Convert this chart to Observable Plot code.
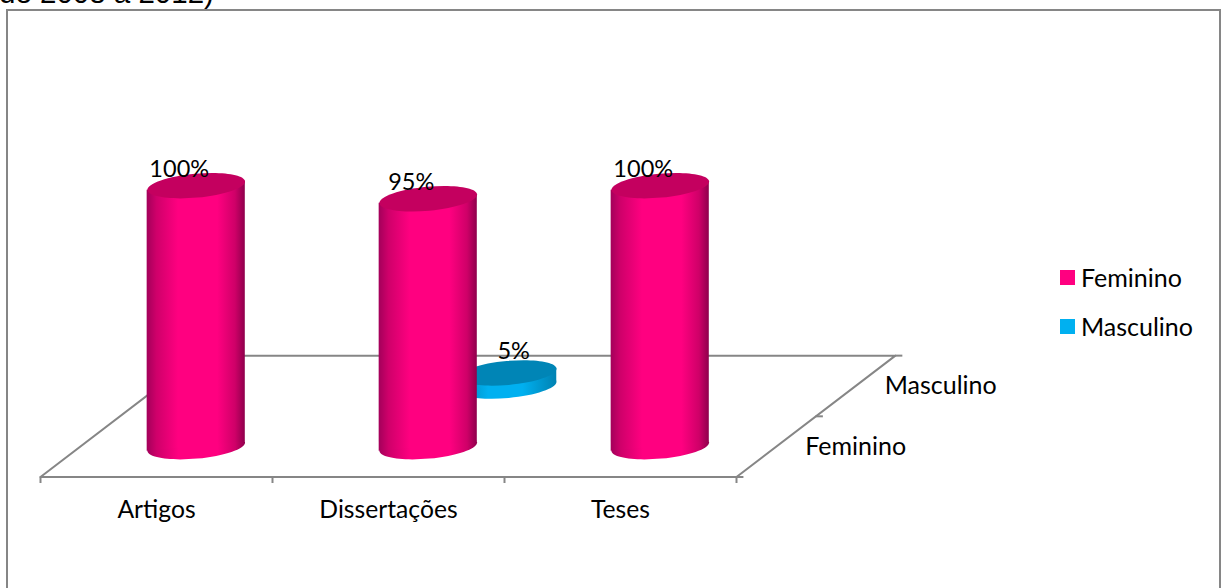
<!DOCTYPE html>
<html lang="pt">
<head>
<meta charset="utf-8">
<title>Autoria por sexo</title>
<script src="https://cdn.jsdelivr.net/npm/d3@7"></script>
<script src="https://cdn.jsdelivr.net/npm/@observablehq/plot@0.6"></script>
<style>
  html, body { margin: 0; padding: 0; background: #fff; overflow: hidden; width: 1221px; height: 588px; }
  #stage { position: relative; width: 1221px; height: 588px; overflow: hidden; }
  #stage svg { position: absolute; left: 0; top: 0; }
  .caption { position: absolute; left: -1px; top: -24px; font: 29.5px/34px "Liberation Sans", Arial, sans-serif; color: #000; white-space: nowrap; }
  .border { position: absolute; left: 6px; top: 9px; width: 1211px; height: 620px; border: 2px solid #868686; box-sizing: content-box; }
  .legend { position: absolute; left: 1060px; top: 252.5px; font: 25px/49px Lato, sans-serif; color: #000; }
  .legend div { display: flex; align-items: center; height: 49px; }
  .legend i { display: block; width: 15px; height: 15px; margin-right: 6px; }
</style>
</head>
<body>
<div id="stage">
  <div class="caption">de 2008 a 2012)</div>
  <div class="border"></div>
  <div class="legend" id="legend"></div>
</div>
<script>
// Share of works by authors' sex, per publication type (percent)
const categories = ["Artigos", "Dissertações", "Teses"];
const feminino = [100, 95, 100];
const masculino = [0, 5, 0];
const seriesNames = ["Feminino", "Masculino"];
const seriesColors = ["#ff0080", "#00b0f0"];

// Oblique floor: a step along the depth axis moves right and up, in scale units
const depthX = 0.685;
const depthY = 46.5;
const rowDepth = [0.25, 0.75];
const halfWidth = 0.2115;
const tilt = 1.75;

const project = (cat, depth, value) => ({x: cat + depth * depthX, y: value + depth * depthY});

// One record per visible cylinder
function cylinders(values, row) {
  return values.flatMap((v, i) => {
    if (v <= 0) return [];
    const base = project(i + 0.5, rowDepth[row], 0);
    return [{name: categories[i], value: v, x: base.x, base: base.y, top: base.y + v, label: `${v}%`}];
  });
}
const bodySides = (rows) => rows.flatMap((r) => [
  {name: r.name, x: r.x - halfWidth, y1: r.base - tilt, y2: r.top - tilt},
  {name: r.name, x: r.x + halfWidth, y1: r.base + tilt, y2: r.top + tilt}
]);

// Flattened, slightly rotated disc used for both ends of a cylinder
const disc = {
  draw(context, size) {
    const a = Math.sqrt(size / Math.PI), b = a * 0.245, k = 0.5523;
    const angle = -5.2 * Math.PI / 180, c = Math.cos(angle), s = Math.sin(angle);
    const px = (x, y) => x * c - y * s, py = (x, y) => x * s + y * c;
    const curve = (x1, y1, x2, y2, x3, y3) =>
      context.bezierCurveTo(px(x1, y1), py(x1, y1), px(x2, y2), py(x2, y2), px(x3, y3), py(x3, y3));
    context.moveTo(px(a, 0), py(a, 0));
    curve(a, k * b, k * a, b, 0, b);
    curve(-k * a, b, -a, k * b, -a, 0);
    curve(-a, -k * b, -k * a, -b, 0, -b);
    curve(k * a, -b, a, -k * b, a, 0);
    context.closePath();
  }
};

// Horizontal shading across a cylinder's curved side
const gradients = () => {
  const defs = d3.create("svg:defs");
  const add = (id, stops) => {
    const g = defs.append("linearGradient").attr("id", id).attr("x1", 0).attr("x2", 1).attr("y1", 0).attr("y2", 0);
    stops.forEach(([o, c]) => g.append("stop").attr("offset", o).attr("stop-color", c));
  };
  add("sideF", [[0, "#a3005a"], [0.1, "#cf006a"], [0.32, "#ff0080"], [0.72, "#ff0080"], [0.9, "#cf0068"], [1, "#8f004c"]]);
  add("sideM", [[0, "#0085b5"], [0.3, "#00b0f0"], [0.65, "#00b0f0"], [1, "#0082b2"]]);
  return defs.node();
};

const cylinderMarks = (rows, side, cap) => [
  Plot.dot(rows, {x: "x", y: "base", r: 49, symbol: disc, fill: `url(#${side})`}),
  Plot.areaY(bodySides(rows), {x: "x", y1: "y1", y2: "y2", z: "name", fill: `url(#${side})`}),
  Plot.dot(rows, {x: "x", y: "top", r: 49, symbol: disc, fill: cap})
];

const frontRow = cylinders(feminino, 0);
const backRow = cylinders(masculino, 1);

// Floor outline and its tick marks
const gridColor = "#868686";
const floorPath = [project(0, 0, 0), project(0, 1, 0), project(3, 1, 0), project(3, 0, 0), project(0, 0, 0)];
const categoryTicks = d3.range(categories.length + 1);
const depthTicks = [0, 0.5, 1].map((d) => project(3, d, 0));

const labelFont = {fontFamily: "Lato, sans-serif", fill: "#000"};

const chart = Plot.plot({
  width: 1221,
  height: 588,
  margin: 0,
  style: {background: "transparent"},
  x: {domain: [0, 3], range: [40, 736], axis: null},
  y: {domain: [0, 100], range: [476.5, 215.5], axis: null},
  marks: [
    gradients,
    Plot.line(floorPath, {x: "x", y: "y", stroke: gridColor, strokeWidth: 2}),
    Plot.ruleX(categoryTicks, {x: (d) => d, y1: 0, y2: -2.5, stroke: gridColor, strokeWidth: 2}),
    Plot.ruleY(depthTicks, {y: "y", x1: "x", x2: (d) => d.x + 0.032, stroke: gridColor, strokeWidth: 2}),
    ...cylinderMarks(backRow, "sideM", "#0085b6"),
    ...cylinderMarks(frontRow, "sideF", "#c4005f"),
    // Value labels above each cylinder
    Plot.text(frontRow, {x: "x", y: "top", text: "label", dx: -17, dy: -16, fontSize: 23.5, ...labelFont}),
    Plot.text(backRow, {x: "x", y: "top", text: "label", dx: 6, dy: -21, fontSize: 23.5, ...labelFont}),
    // Category names under the front edge
    Plot.text(categories, {x: (d, i) => i + 0.5, y: 0, text: (d) => d, dy: 33, fontSize: 24.7, ...labelFont}),
    // Series names beside the right edge
    Plot.text(seriesNames, {
      x: (d, i) => project(3, rowDepth[i], 0).x,
      y: (d, i) => project(3, rowDepth[i], 0).y,
      text: (d) => d,
      textAnchor: "start",
      dx: 29,
      fontSize: 25,
      ...labelFont
    })
  ]
});

const stage = document.getElementById("stage");
stage.insertBefore(chart, stage.firstChild);

// Legend swatches
const legend = d3.select("#legend");
seriesNames.forEach((name, i) => {
  const row = legend.append("div");
  row.append("i").style("background", seriesColors[i]);
  row.append("span").text(name);
});
</script>
</body>
</html>
